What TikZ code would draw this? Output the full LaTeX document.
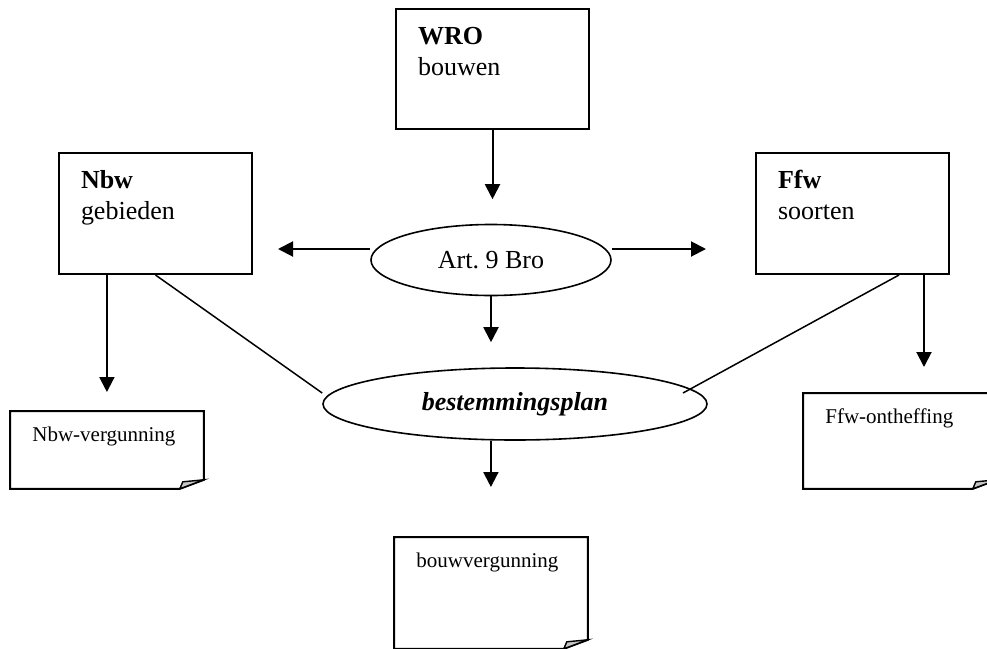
\documentclass[tikz,border=0pt]{standalone}
\usepackage{fontspec}
\setmainfont{Liberation Serif}
\usepackage{tikz}
\usetikzlibrary{shapes,arrows.meta}

\newcommand{\boxtxt}[3]{\parbox[c][#1][t]{96.5pt}{\raggedright\leftskip=11pt\rule{0pt}{#2}#3}}

\begin{document}
\begin{tikzpicture}[x=0.5pt,y=-0.5pt]
\tikzstyle{lawbox}=[draw,line width=1pt,anchor=north west,inner sep=0pt,font=\fontsize{13}{15.5}\selectfont]
\tikzstyle{docbox}=[anchor=north west,inner sep=0pt,font=\fontsize{10.5}{12.5}\selectfont]
\tikzstyle{oval}=[draw,ellipse,line width=0.8pt,inner sep=0pt,font=\fontsize{13}{15.5}\selectfont]
\tikzstyle{arr}=[line width=1pt,-{Triangle[width=7.5pt,length=7.5pt]}]
\tikzstyle{link}=[line width=0.75pt]

\useasboundingbox (0,0) rectangle (987,649);
\clip (0,0) rectangle (987,649);

% boxes
\node [lawbox] (wro) at (395,8) {\boxtxt{60pt}{17.5pt}{\textbf{WRO}\\bouwen}};
\node [lawbox] (nbw) at (58,152) {\boxtxt{60.5pt}{17.5pt}{\textbf{Nbw}\\gebieden}};
\node [lawbox] (ffw) at (755,152) {\boxtxt{60.5pt}{17.5pt}{\textbf{Ffw}\\soorten}};

% ellipses
\node [oval,minimum width=120pt,minimum height=35.5pt] (art) at (491,260) {Art.\ 9 Bro\hspace{16.5pt}};
\node [oval,minimum width=192pt,minimum height=36pt] (bestem) at (515,404) {\textbf{\textit{bestemmingsplan}}\hspace{27pt}};

% documents
\node [docbox] (nbwv) at (10,411) {\boxtxt{38.5pt}{15pt}{Nbw-vergunning}};
\node [docbox] (ffwo) at (803,393) {\boxtxt{47.5pt}{15pt}{Ffw-ontheffing}};
\node [docbox] (bouwv) at (394,537) {\boxtxt{55.5pt}{15pt}{bouwvergunning}};

\foreach \d in {nbwv,ffwo,bouwv}{
  \draw [line width=1pt] (\d.north west) -- (\d.north east) -- ([yshift=4.5pt]\d.south east)
    -- ([xshift=-12pt]\d.south east) -- (\d.south west) -- cycle;
  \filldraw [fill=gray!45,line width=0.7pt] ([xshift=-12pt]\d.south east)
    -- ([xshift=-10.5pt,yshift=3.5pt]\d.south east) -- ([yshift=4.5pt]\d.south east) -- cycle;
}

% arrows
\draw [arr,shorten >=12.25pt] (wro.south) -- (wro.south |- art.north);
\draw [arr,shorten >=12.5pt] ([yshift=5.5pt]art.west) -- ([yshift=5.5pt]art.west -| nbw.east);
\draw [arr,shorten >=24.5pt] ([yshift=5.5pt]art.east) -- ([yshift=5.5pt]art.east -| ffw.west);
\draw [arr,shorten >=12.5pt] (art.south) -- (art.south |- bestem.north);
\draw [arr,shorten >=25pt] (bestem.south -| bouwv.north) -- (bouwv.north);
\draw [arr,shorten >=9.5pt] (nbw.south -| nbwv.north) -- (nbwv.north);
\draw [arr,shorten >=13pt] ([xshift=35.75pt]ffw.south) -- ([xshift=35.75pt]ffw.south |- ffwo.north);

% lines
\draw [link] (nbw.south) -- ([yshift=5.5pt]bestem.west);
\draw [link] ([xshift=23.25pt]ffw.south) -- ([xshift=84pt,yshift=5.5pt]bestem.center);
\end{tikzpicture}
\end{document}
